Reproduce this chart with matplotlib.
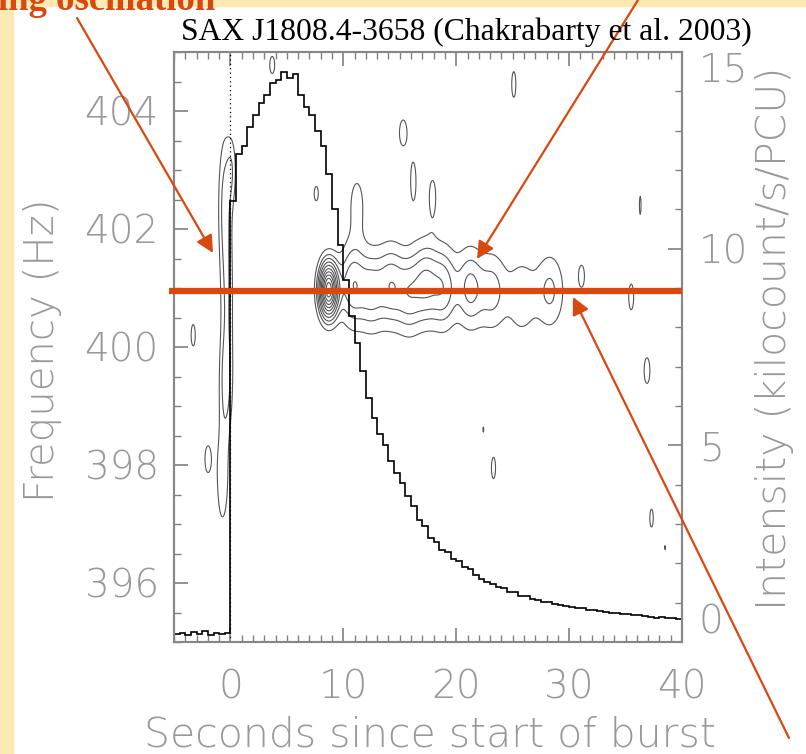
import numpy as np
import matplotlib
matplotlib.use("Agg")
import matplotlib.pyplot as plt
from matplotlib.patches import Rectangle, FancyArrowPatch
from matplotlib.ticker import MultipleLocator, FixedLocator

# light curve (kilocount/s/PCU), 0.5 s bins from -5 s to 40 s
lc_edges = np.arange(-5, 40.01, 0.5)
lc_vals = [0.20, 0.24, 0.18, 0.26, 0.21, 0.28, 0.19, 0.23, 0.20, 0.22,
           11.2, 12.4, 12.6, 13.1, 13.4, 13.7, 13.9, 14.2, 14.3, 14.5,
           14.35, 14.45, 13.9, 13.6, 13.4, 13.0, 12.6, 11.9, 11.0, 10.1,
           9.2, 8.3, 7.6, 6.9, 6.2, 5.7, 5.3, 5.0, 4.6, 4.3,
           4.05, 3.7, 3.45, 3.1, 2.95, 2.65, 2.55, 2.35, 2.3, 2.1,
           2.05, 1.9, 1.85, 1.7, 1.6, 1.52, 1.48, 1.4, 1.37, 1.28,
           1.26, 1.18, 1.16, 1.1, 1.08, 1.02, 1.01, 0.96, 0.95, 0.91,
           0.9, 0.87, 0.86, 0.82, 0.81, 0.78, 0.77, 0.74, 0.74, 0.71,
           0.70, 0.68, 0.68, 0.65, 0.64, 0.62, 0.63, 0.60, 0.61, 0.58]

# power contours: blobs (time s, freq Hz, strength, width in t, width in f)
blob_t = [8.7, 10.8, 12.5, 14.2, 15.8, 17.3, 18.9, 21.2, 23.2, 25.8, 28.3, 31.1, 35.5,
          -0.5, -0.3, -0.4, -0.7, 0.1, -2.0, -3.3,
          3.7, 25.1, 15.3, 16.2, 17.9, 36.3, 7.6, 11.2, 23.3, 22.4, 37.3, 38.5, 36.9]
blob_f = [400.97, 401.05, 400.95, 401.05, 400.9, 401.1, 401.0, 401.0, 400.95, 400.85, 400.95, 401.2, 400.85,
          402.4, 400.8, 399.4, 397.8, 403.0, 398.1, 400.2,
          404.78, 404.45, 403.63, 402.8, 402.55, 402.4, 402.6, 402.4, 397.95, 398.6, 397.1, 396.6, 399.6]
blob_amp = [14, 3.8, 3.2, 3.5, 3.2, 3.8, 3.6, 3.2, 2.4, 1.8, 2.2, 1.3, 1.3,
            2.4, 1.8, 2.4, 1.6, 1.6, 1.3, 1.3,
            1.3, 1.3, 1.3, 1.35, 1.35, 1.2, 1.2, 1.4, 1.3, 1.1, 1.2, 1.1, 1.3]
blob_wt = [0.55, 0.8, 0.8, 0.8, 0.8, 0.8, 0.8, 0.8, 0.9, 0.9, 0.9, 0.35, 0.3,
           0.4, 0.4, 0.4, 0.45, 0.3, 0.35, 0.25,
           0.3, 0.25, 0.45, 0.3, 0.35, 0.12, 0.3, 0.6, 0.25, 0.1, 0.25, 0.1, 0.35]
blob_wf = [0.3, 0.45, 0.45, 0.45, 0.45, 0.45, 0.45, 0.45, 0.45, 0.45, 0.45, 0.25, 0.3,
           0.8, 0.8, 0.6, 0.7, 0.4, 0.3, 0.25,
           0.2, 0.3, 0.3, 0.4, 0.35, 0.25, 0.2, 0.45, 0.25, 0.1, 0.25, 0.08, 0.3]
levels = [1, 2, 3, 4.2, 5.5, 7, 8.5, 10, 11.5, 13]

osc_freq = 400.95
intensity_ticks = [0, 5, 10, 15]

gray = '#999999'
orange = '#D9480F'

fig = plt.figure(figsize=(8.06, 7.54), dpi=100)


def px(x, y):
    return x / 806, 1 - y / 754


# slide border
fig.add_artist(Rectangle((0, 0), 13 / 806, 1, transform=fig.transFigure,
                         color='#FDE9B4', zorder=0))
fig.add_artist(Rectangle((0, 1 - 6 / 754), 1, 6 / 754, transform=fig.transFigure,
                         color='#FDE9B4', zorder=0))

ax = fig.add_axes([174 / 806, 1 - 642 / 754, 508 / 806, 590 / 754])

tt = np.linspace(-5, 40, 901)
ff = np.linspace(395, 405, 501)
T, F = np.meshgrid(tt, ff)
Z = np.zeros_like(T)
for t0, f0, a, wt, wf in zip(blob_t, blob_f, blob_amp, blob_wt, blob_wf):
    Z += a * np.exp(-0.5 * ((T - t0) / wt) ** 2 - 0.5 * ((F - f0) / wf) ** 2)
ax.contour(T, F, Z, levels=levels, colors='#555555', linewidths=0.8)
ax.axvline(0, color='k', ls=(0, (1, 2.5)), lw=0.9)

ax.set_xlim(-5, 40)
ax.set_ylim(395, 405)
ax.xaxis.set_major_locator(MultipleLocator(10))
ax.xaxis.set_minor_locator(MultipleLocator(1))
ax.yaxis.set_major_locator(MultipleLocator(2))
ax.yaxis.set_minor_locator(MultipleLocator(0.5))
ax.tick_params(which='both', direction='in', top=True, right=False,
               colors='#808080', labelcolor=gray, labelsize=28)
ax.tick_params(which='major', length=10, width=1.2)
ax.tick_params(which='minor', length=5, width=1)
ax.tick_params(axis='y', pad=11)
ax.tick_params(axis='x', pad=19)

ax2 = ax.twinx()
ax2.stairs(lc_vals, lc_edges, color='k', lw=1.2, baseline=None)
ax2.set_ylim(0, 15)
ax2.yaxis.set_major_locator(FixedLocator(intensity_ticks))
ax2.yaxis.set_minor_locator(MultipleLocator(1))
ax2.tick_params(which='both', direction='in', colors='#808080', labelcolor=gray,
                labelsize=28, pad=12)
ax2.tick_params(which='major', length=10, width=1.2)
ax2.tick_params(which='minor', length=5, width=1)

for a in (ax, ax2):
    for s in a.spines.values():
        s.set_color('#888888')
        s.set_linewidth(1.5)

fig.canvas.draw()
ticks = ax2.yaxis.get_major_ticks()
ticks[0].label2.set_va('bottom')
ticks[-1].label2.set_va('top')
for tk in ax.xaxis.get_major_ticks() + ax.yaxis.get_major_ticks() + ticks:
    tk.label1.set_fontweight('light')
    tk.label2.set_fontweight('light')

fig.text(*px(43, 350), 'Frequency (Hz)', rotation=90, ha='center', va='center',
         fontsize=29, color=gray, fontweight='light')
fig.text(*px(775, 338), 'Intensity (kilocount/s/PCU)', rotation=90, ha='center',
         va='center', fontsize=29.5, color=gray, fontweight='light')
fig.text(*px(430, 735), 'Seconds since start of burst', ha='center', va='center',
         fontsize=29.5, color=gray, fontweight='light')
fig.text(*px(466, 32), 'SAX J1808.4-3658 (Chakrabarty et al. 2003)', ha='center',
         va='center', fontsize=22.8, family='Liberation Serif', color='k')
fig.text(*px(-2, 10), 'ing oscillation', ha='left', va='baseline', fontsize=26.5,
         family='Liberation Serif', fontweight='bold', color=orange)

# annotation overlay in pixel coordinates
ov = fig.add_axes([0, 0, 1, 1])
ov.set_xlim(0, 806)
ov.set_ylim(754, 0)
ov.axis('off')
ov.plot([-5.4, 40], [osc_freq, osc_freq], color=orange, lw=4.5,
        transform=ax.transData, clip_on=False, solid_capstyle='butt')
for (x0, y0), (x1, y1) in [((77, 18), (213, 253)), ((638, 0), (477, 259)),
                           ((789, 738), (573, 297))]:
    ov.add_patch(FancyArrowPatch((x0, y0), (x1, y1), arrowstyle='-|>',
                                 mutation_scale=26, color=orange, lw=1.6,
                                 shrinkA=0, shrinkB=0))

fig.savefig('out.png', dpi=100)
